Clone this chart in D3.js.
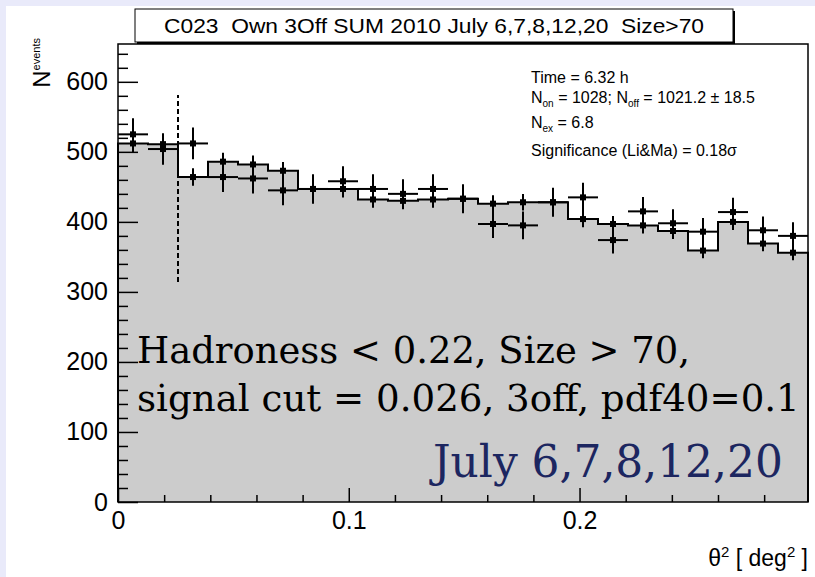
<!DOCTYPE html>
<html>
<head>
<meta charset="utf-8">
<script src="https://cdn.jsdelivr.net/npm/d3@7"></script>
<style>
  html, body { margin: 0; padding: 0; background: #ffffff; }
  svg { display: block; }
  text { white-space: pre; }
</style>
</head>
<body>
<svg id="chart" width="815" height="577"></svg>
<script>
// ---------------- data ----------------
const titleText = "C023  Own 3Off SUM 2010 July 6,7,8,12,20  Size>70";
const binWidth = 0.013;
const onCounts  = [525,504,512,464,462,445,447,458,447,440,447,433,397,395,428,435,374,415,398,386,414,388,380];
const onErrors  = [22.9,22.4,22.6,21.5,21.5,21.1,21.1,21.4,21.1,21.0,21.1,20.8,19.9,19.9,20.7,20.9,19.3,20.4,19.9,19.6,20.3,19.7,19.5];
const offCounts = [512,511,464,486,482,473,447,447,432,430,432,433,426,428,428,404,397,395,387,359,400,369,356];
const offErrors = [13.1,13.0,12.4,12.7,12.7,12.6,12.2,12.2,12.0,12.0,12.0,12.0,11.9,11.9,11.9,11.6,11.5,11.5,11.4,10.9,11.5,11.1,10.9];
const cutValue = 0.026;
const cutRange = [314, 581];
const xMajorTicks = [0, 0.1, 0.2];
const xMinorTicks = [0.02,0.04,0.06,0.08,0.12,0.14,0.16,0.18,0.22,0.24,0.26,0.28];
const yMajorTicks = [0,100,200,300,400,500,600];
const yMinorTicks = [20,40,60,80,120,140,160,180,220,240,260,280,320,340,360,380,420,440,460,480,520,540,560,580,620,640];
const xDomain = [0, 0.299];
const yDomain = [0, 654];
const statsLines = [
  [["Time = 6.32 h", false]],
  [["N", false], ["on", true], [" = 1028; N", false], ["off", true], [" = 1021.2 \u00b1 18.5", false]],
  [["N", false], ["ex", true], [" = 6.8", false]],
  [["Significance (Li&Ma) = 0.18\u03c3", false]]
];
const noteLines = ["Hadroness < 0.22, Size > 70,", "signal cut = 0.026, 3off, pdf40=0.1"];
const dateNote = "July 6,7,8,12,20";

// ---------------- layout ----------------
const svg = d3.select("#chart");
const F = {left: 118, right: 808, top: 44, bottom: 502};
const x = d3.scaleLinear().domain(xDomain).range([F.left, F.right]);
const y = d3.scaleLinear().domain(yDomain).range([F.bottom, F.top]);
const sans = "'Liberation Sans', Arial, Helvetica, sans-serif";
const serif = "'DejaVu Serif', 'Liberation Serif', serif";

function fitWidth(sel, w) {
  const cur = sel.node().getComputedTextLength();
  const fs = parseFloat(sel.attr("font-size"));
  sel.attr("font-size", fs * w / cur);
}

// background (lavender border strip)
svg.append("rect").attr("width", 815).attr("height", 577).attr("fill", "#e9eafa");
svg.append("rect").attr("x", 6).attr("y", 6).attr("width", 809).attr("height", 571).attr("fill", "#ffffff");
svg.append("rect").attr("x", F.left).attr("y", F.top)
  .attr("width", F.right - F.left).attr("height", F.bottom - F.top).attr("fill", "#ffffff");

// off histogram (filled step)
const bins = offCounts.map((v, i) => ({x0: i * binWidth, x1: (i + 1) * binWidth, off: v, offErr: offErrors[i], on: onCounts[i], onErr: onErrors[i]}));
const stepPts = [[x(0), y(0)]];
bins.forEach(b => { stepPts.push([x(b.x0), y(b.off)]); stepPts.push([x(b.x1), y(b.off)]); });
stepPts.push([x(bins[bins.length - 1].x1), y(0)]);
svg.append("path").attr("d", d3.line()(stepPts) + "Z").attr("fill", "#cccccc").attr("stroke", "none");
svg.append("path").attr("d", d3.line()(stepPts)).attr("fill", "none").attr("stroke", "#000").attr("stroke-width", 2);

// signal cut line
svg.append("line").attr("x1", x(cutValue)).attr("x2", x(cutValue))
  .attr("y1", y(cutRange[0])).attr("y2", y(cutRange[1]))
  .attr("stroke", "#000").attr("stroke-width", 2).attr("stroke-dasharray", "5,3");

// off error bars + markers
const gOff = svg.append("g");
bins.forEach(b => {
  const cx = x((b.x0 + b.x1) / 2);
  gOff.append("line").attr("x1", cx).attr("x2", cx).attr("y1", y(b.off - b.offErr)).attr("y2", y(b.off + b.offErr))
    .attr("stroke", "#000").attr("stroke-width", 2);
  gOff.append("rect").attr("x", cx - 3).attr("y", y(b.off) - 3).attr("width", 6).attr("height", 6).attr("fill", "#000");
});
// on points
const gOn = svg.append("g");
bins.forEach(b => {
  const cx = x((b.x0 + b.x1) / 2);
  gOn.append("line").attr("x1", x(b.x0)).attr("x2", x(b.x1)).attr("y1", y(b.on)).attr("y2", y(b.on))
    .attr("stroke", "#000").attr("stroke-width", 2);
  gOn.append("line").attr("x1", cx).attr("x2", cx).attr("y1", y(b.on - b.onErr)).attr("y2", y(b.on + b.onErr))
    .attr("stroke", "#000").attr("stroke-width", 2);
  gOn.append("rect").attr("x", cx - 3).attr("y", y(b.on) - 3).attr("width", 6).attr("height", 6).attr("fill", "#000");
});

// frame
svg.append("rect").attr("x", F.left).attr("y", F.top)
  .attr("width", F.right - F.left).attr("height", F.bottom - F.top)
  .attr("fill", "none").attr("stroke", "#000").attr("stroke-width", 1.5);

// axes
function styleAxis(g, fs) {
  g.attr("font-size", fs).attr("font-family", sans);
  g.select(".domain").remove();
  g.selectAll(".tick line").attr("stroke", "#000").attr("stroke-width", 1.5);
  g.selectAll("text").style("font-family", sans).style("font-size", fs + "px").attr("fill", "#000");
}
const yAxis = svg.append("g").attr("transform", `translate(${F.left},0)`)
  .call(d3.axisLeft(y).tickValues(yMajorTicks).tickSize(-20).tickPadding(10).tickFormat(d3.format("d")));
styleAxis(yAxis, 25);
const yMinor = svg.append("g").attr("transform", `translate(${F.left},0)`)
  .call(d3.axisLeft(y).tickValues(yMinorTicks).tickSize(-10).tickFormat(""));
styleAxis(yMinor, 10);
const xAxis = svg.append("g").attr("transform", `translate(0,${F.bottom})`)
  .call(d3.axisBottom(x).tickValues(xMajorTicks).tickSize(-14).tickPadding(9).tickFormat(d => d === 0 ? "0" : d3.format(".1f")(d)));
styleAxis(xAxis, 25);
const xMinor = svg.append("g").attr("transform", `translate(0,${F.bottom})`)
  .call(d3.axisBottom(x).tickValues(xMinorTicks).tickSize(-7).tickFormat(""));
styleAxis(xMinor, 10);

// axis titles
const xt = svg.append("text").attr("x", F.right).attr("y", 566).attr("text-anchor", "end")
  .attr("font-family", sans).attr("font-size", 23).attr("fill", "#000");
xt.append("tspan").text("\u03b8");
xt.append("tspan").attr("dy", -9).attr("font-size", 15).text("2");
xt.append("tspan").attr("dy", 9).text(" [ deg");
xt.append("tspan").attr("dy", -9).attr("font-size", 15).text("2");
xt.append("tspan").attr("dy", 9).text(" ]");

const yt = svg.append("text").attr("transform", "translate(50,38) rotate(-90)").attr("text-anchor", "end")
  .attr("font-family", sans).attr("font-size", 24).attr("fill", "#000");
yt.append("tspan").text("N");
yt.append("tspan").attr("dy", -10).attr("font-size", 11).text("events");

// title box
svg.append("rect").attr("x", 137).attr("y", 11).attr("width", 598).attr("height", 33).attr("fill", "#000");
svg.append("rect").attr("x", 135).attr("y", 9).attr("width", 598).attr("height", 33)
  .attr("fill", "#fff").attr("stroke", "#000").attr("stroke-width", 1);
svg.append("text").attr("x", 434).attr("y", 33).attr("text-anchor", "middle")
  .attr("font-family", sans).attr("font-size", 21).attr("fill", "#000")
  .attr("textLength", 540).attr("lengthAdjust", "spacingAndGlyphs").text(titleText);

// stats text
const statsY = [83, 103, 128, 156];
statsLines.forEach((parts, i) => {
  const t = svg.append("text").attr("x", 531).attr("y", statsY[i])
    .attr("font-family", sans).attr("font-size", 16).attr("fill", "#000");
  let sub = false;
  parts.forEach(([s, isSub]) => {
    const sp = t.append("tspan").text(s);
    if (isSub && !sub) { sp.attr("dy", 4).attr("font-size", 10); sub = true; }
    else if (isSub) { sp.attr("font-size", 10); }
    else if (!isSub && sub) { sp.attr("dy", -4); sub = false; }
  });
});

// overlay notes
const n1 = svg.append("text").attr("x", 137).attr("y", 363).attr("font-family", serif)
  .attr("font-size", 34).attr("fill", "#000").text(noteLines[0]);
fitWidth(n1, 553);
const n2 = svg.append("text").attr("x", 137).attr("y", 411).attr("font-family", serif)
  .attr("font-size", 34).attr("fill", "#000").text(noteLines[1]);
fitWidth(n2, 663);
const n3 = svg.append("text").attr("x", 433).attr("y", 477).attr("font-family", serif)
  .attr("font-size", 38).attr("fill", "#1c2660").text(dateNote);
fitWidth(n3, 350);
</script>
</body>
</html>
